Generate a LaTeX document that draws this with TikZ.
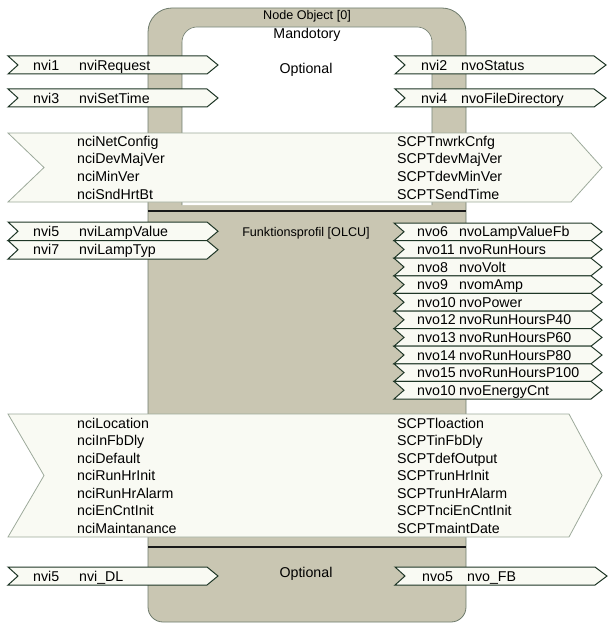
\documentclass[tikz,border=0pt]{standalone}
\usepackage{fontspec}
\setmainfont{Liberation Sans}
\definecolor{tan}{HTML}{C9C6B2}
\definecolor{edge}{HTML}{6E7B6C}
\definecolor{paper}{HTML}{F9FAF3}
\definecolor{ink}{HTML}{1E3626}
\definecolor{pale}{HTML}{9DAA9B}

\begin{document}
\begin{tikzpicture}[x=1pt, y=-1pt,
    body/.style={draw=edge, fill=tan, line width=0.8pt},
    hole/.style={draw=edge, fill=white, line width=0.6pt, rounded corners=15},
    sig/.style={draw=ink, fill=paper, line width=1pt},
    cfg/.style={draw=pale, fill=paper, line width=0.8pt},
    sep/.style={draw=black!90, line width=2pt},
    lbl/.style={anchor=base west, inner sep=0pt, yshift=-5.1pt, font=\fontsize{14.2}{17}\selectfont},
    head/.style={inner sep=0pt, font=\fontsize{14.2}{17}\selectfont},
    small/.style={inner sep=0pt, font=\fontsize{12.6}{15}\selectfont}]
  \useasboundingbox (0,0) rectangle (608,623);

  \draw[body] (148,300) [rounded corners=24] -- (148,8) -- (466,8) -- (466,300)
    [rounded corners=15] -- (466,622) -- (148,622) -- cycle;
  \draw[hole] (182,205) -- (182,27) -- (432,27) -- (432,205);

  \node[small] (obj) at (307,16) {Node Object [0]};
  \node[head] (mand) at (307,35) {Mandotory};
  \node[head] (opt) at (306,70) {Optional};

  % mandatory inputs and outputs
  \foreach \y/\a/\b [count=\i] in {56/nvi1/nviRequest, 89/nvi3/nviSetTime} {
    \draw[sig] (8,\y) -- (207,\y) -- (218,\y+9) -- (207,\y+18) -- (8,\y+18) -- (18,\y+9) -- cycle;
    \node[lbl] (inno\i) at (33,\y+9) {\a};
    \node[lbl] (inname\i) at (79,\y+9) {\b};
  }
  \foreach \y/\a/\b [count=\i] in {56/nvi2/nvoStatus, 89/nvi4/nvoFileDirectory} {
    \draw[sig] (395,\y) -- (594,\y) -- (606,\y+9) -- (594,\y+18) -- (395,\y+18) -- (405,\y+9) -- cycle;
    \node[lbl] (outno\i) at (421,\y+9) {\a};
    \node[lbl] (outname\i) at (461,\y+9) {\b};
  }

  \draw[cfg] (8,133) -- (571,133) -- (602,167.5) -- (571,202) -- (8,202) -- (44,167.5) -- cycle;
  \foreach \a/\b [count=\i from 0] in {nciNetConfig/SCPTnwrkCnfg, nciDevMajVer/SCPTdevMajVer,
      nciMinVer/SCPTdevMinVer, nciSndHrtBt/SCPTSendTime} {
    \node[lbl] (nci\i) at (77,141+17.7*\i) {\a};
    \node[lbl] (scpt\i) at (397,141+17.7*\i) {\b};
  }

  \draw[sep] (148,211) -- (466,211);
  \node[small] (prof) at (306,233) {Funktionsprofil [OLCU]};

  % lamp profile
  \foreach \y/\a/\b [count=\i] in {222/nvi5/nviLampValue, 240.5/nvi7/nviLampTyp} {
    \draw[sig] (8,\y) -- (207,\y) -- (218,\y+9.25) -- (207,\y+18.5) -- (8,\y+18.5) -- (18,\y+9.25) -- cycle;
    \node[lbl] (lampno\i) at (33,\y+9.25) {\a};
    \node[lbl] (lampname\i) at (79,\y+9.25) {\b};
  }
  \foreach \a/\b [count=\i from 0] in {nvo6/nvoLampValueFb, nvo11/nvoRunHours, nvo8/nvoVolt,
      nvo9/nvomAmp, nvo10/nvoPower, nvo12/nvoRunHoursP40, nvo13/nvoRunHoursP60,
      nvo14/nvoRunHoursP80, nvo15/nvoRunHoursP100, nvo10/nvoEnergyCnt} {
    \pgfmathsetmacro\y{223+17.6*\i}
    \draw[sig] (394,\y) -- (591,\y) -- (602,\y+8.8) -- (591,\y+17.6) -- (394,\y+17.6) -- (404,\y+8.8) -- cycle;
    \node[lbl] (fbno\i) at (417,\y+8.8) {\a};
    \node[lbl] (fbname\i) at (459,\y+8.8) {\b};
  }

  \draw[cfg] (8,414) -- (569,414) -- (602,475.5) -- (569,537) -- (8,537) -- (44,475.5) -- cycle;
  \foreach \a/\b [count=\i from 0] in {nciLocation/SCPTloaction, nciInFbDly/SCPTinFbDly,
      nciDefault/SCPTdefOutput, nciRunHrInit/SCPTrunHrInit, nciRunHrAlarm/SCPTrunHrAlarm,
      nciEnCntInit/SCPTnciEnCntInit, nciMaintanance/SCPTmaintDate} {
    \node[lbl] (lncinci\i) at (77,423+17.5*\i) {\a};
    \node[lbl] (lncscpt\i) at (397,423+17.5*\i) {\b};
  }

  \draw[sep] (148,547) -- (466,547);
  \node[head] (opt2) at (306,574) {Optional};

  \draw[sig] (8,567) -- (207,567) -- (218,576) -- (207,585) -- (8,585) -- (18,576) -- cycle;
  \node[lbl] (dlno) at (33,576) {nvi5};
  \node[lbl] (dlname) at (79,576) {nvi\_DL};
  \draw[sig] (395,567) -- (595,567) -- (607,576) -- (595,585) -- (395,585) -- (405,576) -- cycle;
  \node[lbl] (fbo) at (422,576) {nvo5};
  \node[lbl] (fboname) at (467,576) {nvo\_FB};
\end{tikzpicture}
\end{document}
